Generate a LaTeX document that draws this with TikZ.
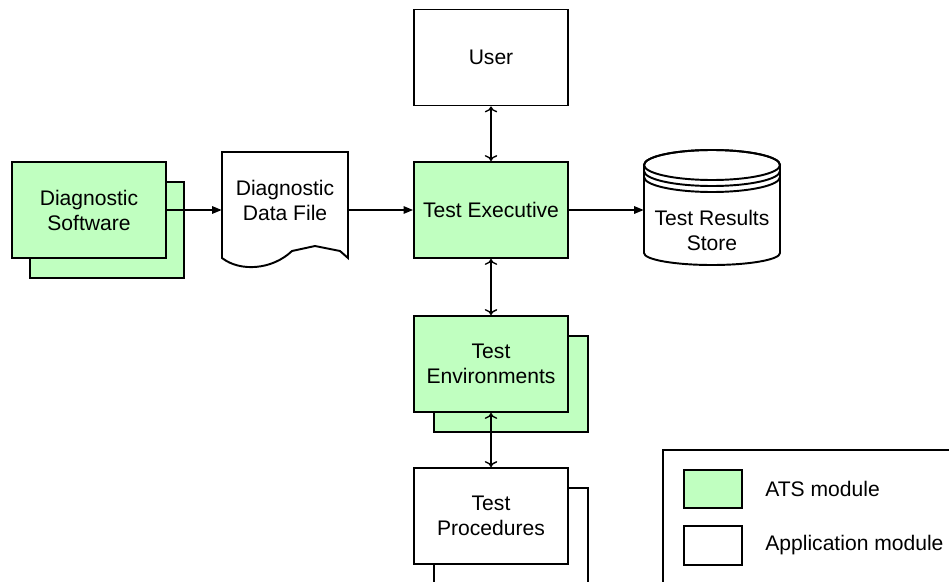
\documentclass[tikz,border=0pt]{standalone}
\usepackage{fontspec}
\setmainfont{Liberation Sans}
\usepackage{tikz}
\usetikzlibrary{arrows.meta, shadows}

\definecolor{atsgreen}{RGB}{192,255,192}

\begin{document}
\begin{tikzpicture}[x=0.02cm, y=-0.02cm,
	every node/.style={font=\fontsize{12}{14.2}\selectfont, align=center},
	module/.style={draw, line width=1.1pt, fill=white, minimum width=3.08cm, minimum height=1.92cm},
	atsmod/.style={module, fill=atsgreen},
	stack/.style={copy shadow={shadow xshift=0.4cm, shadow yshift=-0.4cm}},
	swatch/.style={draw, line width=1.1pt, minimum width=1.16cm, minimum height=0.77cm},
	link/.style={line width=0.8pt, black, -{Triangle[length=1.9mm, width=1.5mm]}},
	outline/.style={line width=1.1pt, black}]

\useasboundingbox (0,0) rectangle (949,581);
\clip (0,0) rectangle (949,581);

\node[module] (user) at (491,57.5) {User};
\node[atsmod] (exec) at (491,210) {Test Executive};
\node[atsmod, copy shadow={shadow xshift=0.36cm, shadow yshift=-0.4cm}] (soft) at (89,210) {Diagnostic\\Software};
\node[atsmod, stack] (env) at (491,364) {Test\\Environments};
\node[module, stack] (proc) at (491,516) {Test\\Procedures};

\draw [outline, fill=white]
	(222,258) -- (222,152) -- (348,152) -- (348,258)
	-- (340,251) -- (315,246) -- (292,251)
	.. controls (272,270) and (240,272) .. (222,258) -- cycle;
\node[minimum width=2.52cm] (dfile) at (285,200) {Diagnostic\\Data File};

\draw [outline, fill=white]
	(644,165) -- (644,253) arc[start angle=180, end angle=0, x radius=68, y radius=12]
	-- (780,165) arc[start angle=0, end angle=-180, x radius=68, y radius=15] -- cycle;
\draw [outline]
	(712,165) ellipse[x radius=68, y radius=15];
\draw [outline]
	(644,171) arc[start angle=180, end angle=0, x radius=68, y radius=15];
\draw [outline]
	(644,177) arc[start angle=180, end angle=0, x radius=68, y radius=15];
\node[minimum width=2.72cm] (store) at (712,230) {Test Results\\Store};

\draw [link, <->] (user) -- (exec);
\draw [link, <->] (exec) -- (env);
\draw [link, <->] (env) -- (proc);
\draw [link] (soft.east) -- (dfile.west |- soft.east);
\draw [link] (dfile.east |- exec.west) -- (exec.west);
\draw [link] (exec.east) -- (store.west |- exec.east);

\draw [outline] (663,450) rectangle (980,620);
\node[swatch, fill=atsgreen] (atskey) at (713,489) {};
\node[swatch, fill=white] (appkey) at (713,545.5) {};
\node[anchor=west, inner sep=0pt] (atstext) at (765,489) {ATS module};
\node[anchor=west, inner sep=0pt] (apptext) at (765,545.5) {Application module};

\end{tikzpicture}
\end{document}
